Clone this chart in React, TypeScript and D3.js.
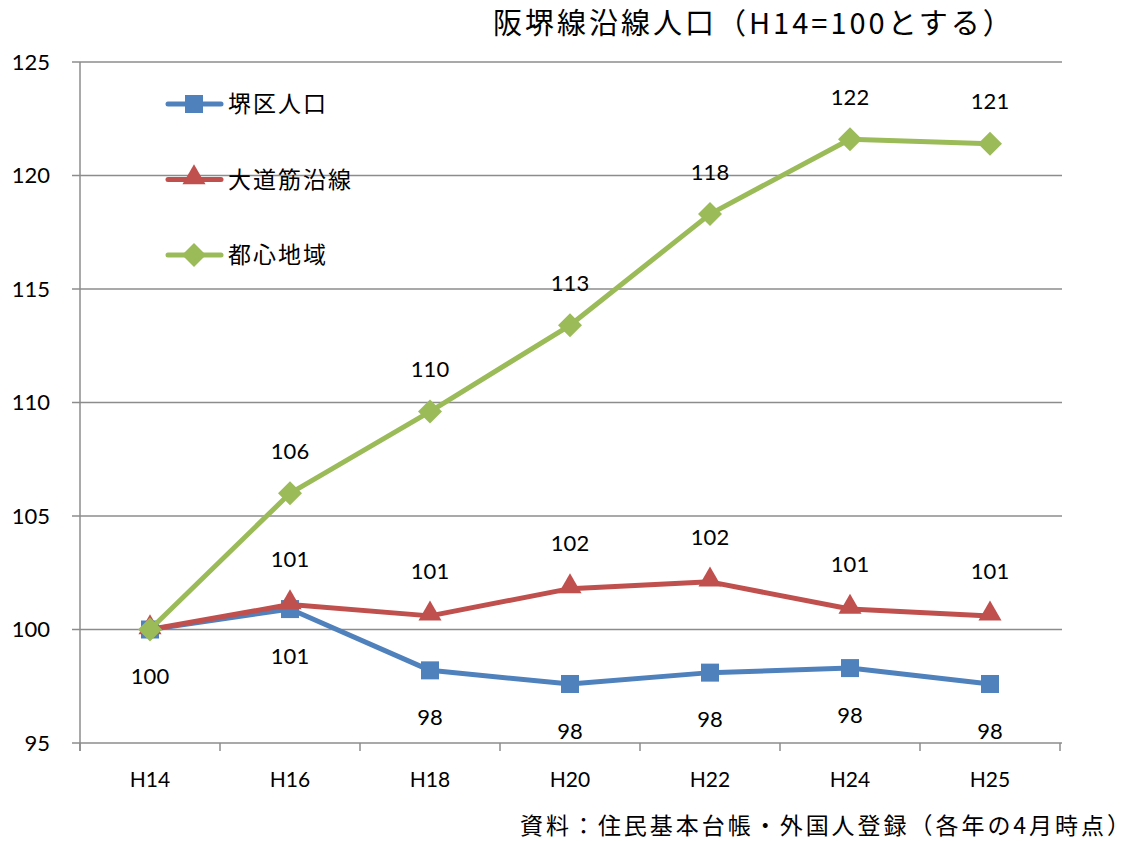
import * as d3 from "d3";

const categories = ["H14", "H16", "H18", "H20", "H22", "H24", "H25"];
const sakaiWard = [100, 100.9, 98.2, 97.6, 98.1, 98.3, 97.6];
const oomichi = [100, 101.1, 100.6, 101.8, 102.1, 100.9, 100.6];
const toshin = [100, 106.0, 109.6, 113.4, 118.3, 121.6, 121.4];
const yTicks = [95, 100, 105, 110, 115, 120, 125];

const seriesNames = ["堺区人口", "大道筋沿線", "都心地域"];

const width = 1133;
const height = 841;
const left = 80;
const right = 1060;
const top = 62;
const bottom = 743;

const BLUE = "#4F81BD";
const RED = "#C0504D";
const GREEN = "#9BBB59";
const GRID = "#8c8c8c";
const NUM_FONT = "Lato, 'Open Sans', sans-serif";
const JP_FONT = "'Noto Sans CJK JP', sans-serif";

const x = d3.scaleBand<string>().domain(categories).range([left, right]);
const y = d3.scaleLinear().domain([95, 125]).range([bottom, top]);
const cx = (c: string) => (x(c) ?? 0) + x.bandwidth() / 2;

const line = d3
  .line<number>()
  .x((_, i) => cx(categories[i]))
  .y((d) => y(d));

function Marker({ kind, px, py, color }: { kind: string; px: number; py: number; color: string }) {
  if (kind === "square") {
    return <rect x={px - 9} y={py - 9} width={18} height={18} fill={color} />;
  }
  if (kind === "triangle") {
    const s = d3.symbol().type(d3.symbolTriangle).size(230)();
    return <path d={s ?? ""} transform={`translate(${px},${py - 2})`} fill={color} />;
  }
  const d = `M0,-12L12,0L0,12L-12,0Z`;
  return <path d={d} transform={`translate(${px},${py})`} fill={color} />;
}

// first point of red/green carries no label in the original (shared 100)
const series = [
  { name: seriesNames[0], values: sakaiWard, color: BLUE, kind: "square", labelDy: 47, skipFirst: false },
  { name: seriesNames[1], values: oomichi, color: RED, kind: "triangle", labelDy: -45, skipFirst: true },
  { name: seriesNames[2], values: toshin, color: GREEN, kind: "diamond", labelDy: -42, skipFirst: true },
];

export default function App() {
  return (
    <svg
      width={width}
      height={height}
      style={{ position: "absolute", left: 0, top: 0, background: "#fff" }}
    >
      {/* gridlines + y ticks */}
      {yTicks.map((t) => (
        <g key={t}>
          <line x1={left - 8} x2={right + 2} y1={y(t)} y2={y(t)} stroke={GRID} strokeWidth={1.5} />
          <text
            x={50}
            y={y(t)}
            dy="0.35em"
            textAnchor="end"
            fontFamily={NUM_FONT}
            fontSize={22}
            fill="#000"
          >
            {t}
          </text>
        </g>
      ))}
      {/* y axis */}
      <line x1={left} x2={left} y1={top} y2={bottom + 8} stroke={GRID} strokeWidth={1.5} />
      {/* x ticks */}
      {categories.concat(["end"]).map((c, i) => {
        const xx = left + i * x.bandwidth();
        return <line key={c} x1={xx} x2={xx} y1={bottom} y2={bottom + 8} stroke={GRID} strokeWidth={1.5} />;
      })}
      {categories.map((c) => (
        <text
          key={c}
          x={cx(c)}
          y={780}
          dy="0.35em"
          textAnchor="middle"
          fontFamily={NUM_FONT}
          fontSize={21}
          fill="#000"
        >
          {c}
        </text>
      ))}

      {/* series */}
      {series.map((s) => (
        <g key={s.name}>
          <path d={line(s.values) ?? ""} fill="none" stroke={s.color} strokeWidth={5} strokeLinejoin="round" />
          {s.values.map((v, i) => (
            <Marker key={i} kind={s.kind} px={cx(categories[i])} py={y(v)} color={s.color} />
          ))}
        </g>
      ))}

      {/* data labels */}
      {series.map((s) =>
        s.values.map((v, i) =>
          s.skipFirst && i === 0 ? null : (
            <text
              key={s.name + i}
              x={cx(categories[i])}
              y={y(v) + s.labelDy}
              dy="0.35em"
              textAnchor="middle"
              fontFamily={NUM_FONT}
              fontSize={22}
              fill="#000"
            >
              {Math.round(v)}
            </text>
          )
        )
      )}

      {/* legend */}
      {series.map((s, i) => {
        const ly = 104 + i * 75.5;
        return (
          <g key={s.name}>
            <line x1={168} x2={221} y1={ly} y2={ly} stroke={s.color} strokeWidth={5} strokeLinecap="round" />
            <Marker kind={s.kind} px={194} py={ly} color={s.color} />
            <text
              x={228}
              y={ly}
              dy="0.36em"
              fontFamily={JP_FONT}
              fontSize={23}
              letterSpacing={2}
              fill="#000"
            >
              {s.name}
            </text>
          </g>
        );
      })}

      {/* title */}
      <text
        x={493}
        y={24}
        dy="0.36em"
        fontFamily={JP_FONT}
        fontSize={29}
        letterSpacing={3}
        fill="#000"
      >
        阪堺線沿線人口（H14=100とする）
      </text>

      {/* source */}
      <text
        x={520}
        y={826}
        dy="0.36em"
        fontFamily={JP_FONT}
        fontSize={23}
        textLength={610}
        lengthAdjust="spacing"
        fill="#000"
      >
        資料：住民基本台帳・外国人登録（各年の4月時点）
      </text>
    </svg>
  );
}
